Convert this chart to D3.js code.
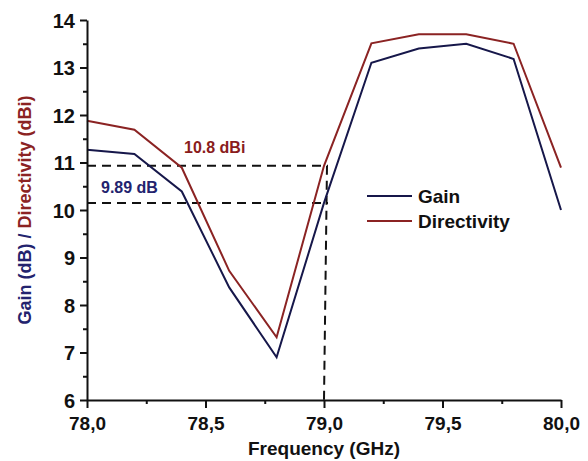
<!DOCTYPE html>
<html>
<head>
<meta charset="utf-8">
<script src="https://cdn.jsdelivr.net/npm/d3@7"></script>
<style>
  html, body { margin: 0; padding: 0; background: #fff; }
  svg { display: block; font-family: "Liberation Sans", Arial, sans-serif; }
</style>
</head>
<body>
<svg id="chart" width="588" height="461"></svg>
<script>
// Frequency sweep (GHz)
const frequency = [78.0, 78.2, 78.4, 78.6, 78.8, 79.0, 79.2, 79.4, 79.6, 79.8, 80.0];
// Realized gain (dB)
const gain = [11.27, 11.18, 10.39, 8.37, 6.9, 10.15, 13.1, 13.4, 13.5, 13.18, 10.0];
// Directivity (dBi)
const directivity = [11.88, 11.69, 10.89, 8.72, 7.32, 10.93, 13.51, 13.7, 13.7, 13.5, 10.89];

// Axis ticks
const xMajorTicks = [78.0, 78.5, 79.0, 79.5, 80.0];
const xMinorTicks = [78.25, 78.75, 79.25, 79.75];
const yMajorTicks = [6, 7, 8, 9, 10, 11, 12, 13, 14];
const yMinorTicks = [6.5, 7.5, 8.5, 9.5, 10.5, 11.5, 12.5, 13.5];

// Marker frequency and annotation texts
const markerFreq = 79.0;
const markerIndex = frequency.indexOf(markerFreq);
const gainNote = "9.89 dB";
const dirNote = "10.8 dBi";

const navy = "#16174a";
const navyText = "#23236e";
const wine = "#8b2323";
const wineText = "#8a1c1c";

const svg = d3.select("#chart");
const plot = { left: 87, right: 561, top: 20, bottom: 400 };

const x = d3.scaleLinear().domain([78, 80]).range([plot.left, plot.right]);
const y = d3.scaleLinear().domain([6, 14]).range([plot.bottom, plot.top]);

const fmtX = v => d3.format(".1f")(v).replace(".", ",");

// Dashed guide lines at 79 GHz
const guides = svg.append("g")
  .attr("stroke", "#111").attr("stroke-width", 2)
  .attr("stroke-dasharray", "9,6").attr("fill", "none");
guides.append("line")
  .attr("x1", x(78)).attr("x2", x(markerFreq) + 4)
  .attr("y1", y(directivity[markerIndex])).attr("y2", y(directivity[markerIndex]));
guides.append("line")
  .attr("x1", x(78)).attr("x2", x(markerFreq) + 4)
  .attr("y1", y(gain[markerIndex])).attr("y2", y(gain[markerIndex]));
guides.append("line")
  .attr("x1", x(markerFreq) + 3).attr("x2", x(markerFreq))
  .attr("y1", y(directivity[markerIndex])).attr("y2", y(6));

// Data lines
const line = d3.line().x((d, i) => x(frequency[i])).y(d => y(d));
svg.append("path").datum(directivity)
  .attr("d", line).attr("fill", "none")
  .attr("stroke", wine).attr("stroke-width", 2).attr("stroke-linejoin", "miter");
svg.append("path").datum(gain)
  .attr("d", line).attr("fill", "none")
  .attr("stroke", navy).attr("stroke-width", 2).attr("stroke-linejoin", "miter");

// X axis
const xAxis = svg.append("g").attr("transform", `translate(0,${plot.bottom})`);
xAxis.call(d3.axisBottom(x).tickValues(xMajorTicks).tickFormat(fmtX).tickSize(8).tickSizeOuter(0));
xAxis.append("g").call(d3.axisBottom(x).tickValues(xMinorTicks).tickFormat("").tickSize(4).tickSizeOuter(0))
  .select(".domain").remove();
xAxis.selectAll("text")
  .attr("font-size", 19).attr("font-weight", "bold").attr("fill", "#111")
  .attr("dy", 0).attr("y", 30);

// Y axis
const yAxis = svg.append("g").attr("transform", `translate(${plot.left},0)`);
yAxis.call(d3.axisLeft(y).tickValues(yMajorTicks).tickFormat(d3.format("d")).tickSize(7).tickSizeOuter(0));
yAxis.append("g").call(d3.axisLeft(y).tickValues(yMinorTicks).tickFormat("").tickSize(4).tickSizeOuter(0))
  .select(".domain").remove();
yAxis.selectAll("text")
  .attr("font-size", 20).attr("font-weight", "bold").attr("fill", "#111")
  .attr("x", -12).attr("dy", "0.36em");

svg.selectAll(".domain").attr("stroke", "#111").attr("stroke-width", 2);
svg.selectAll(".tick line").attr("stroke", "#111").attr("stroke-width", 2);

// Axis titles
svg.append("text")
  .attr("x", 324).attr("y", 455)
  .attr("text-anchor", "middle")
  .attr("font-size", 19).attr("font-weight", "bold").attr("fill", "#111")
  .text("Frequency (GHz)");

const yTitle = svg.append("text")
  .attr("transform", `translate(31,${(plot.top + plot.bottom) / 2}) rotate(-90)`)
  .attr("text-anchor", "middle")
  .attr("font-size", 18).attr("font-weight", "bold");
yTitle.append("tspan").attr("fill", navyText).text("Gain (dB) / ");
yTitle.append("tspan").attr("fill", wine).text("Directivity (dBi)");

// Annotations
svg.append("text")
  .attr("x", 184).attr("y", 153)
  .attr("font-size", 16).attr("font-weight", "bold").attr("fill", wineText)
  .text(dirNote);
svg.append("text")
  .attr("x", 101).attr("y", 193)
  .attr("font-size", 16).attr("font-weight", "bold").attr("fill", navyText)
  .text(gainNote);

// Legend
const legendItems = [
  { name: "Gain", color: navy },
  { name: "Directivity", color: wine }
];
const legend = svg.append("g").attr("transform", "translate(367,196)");
legendItems.forEach((item, i) => {
  const g = legend.append("g").attr("transform", `translate(0,${i * 25})`);
  g.append("line").attr("x1", 0).attr("x2", 45).attr("y1", 0).attr("y2", 0)
    .attr("stroke", item.color).attr("stroke-width", 2);
  g.append("text").attr("x", 51).attr("y", 0).attr("dy", "0.36em")
    .attr("font-size", 19).attr("font-weight", "bold").attr("fill", "#111")
    .text(item.name);
});
</script>
</body>
</html>
